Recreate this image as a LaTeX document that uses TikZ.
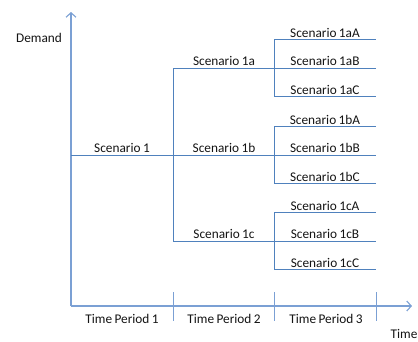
\documentclass[tikz,border=0pt]{standalone}
\usepackage{fontspec}
\setmainfont{Carlito}
\usetikzlibrary{arrows.meta}
\definecolor{treeblue}{HTML}{4F81BD}
\definecolor{axisblue}{HTML}{7BA0D4}
\definecolor{labelgray}{HTML}{141414}
\newcommand{\labelfont}{\fontsize{13.3}{15}\selectfont\spaceskip=0.18em\relax}
\tikzset{
  branch/.style={draw=treeblue, line width=0.9pt},
  axisline/.style={draw=axisblue, line width=1.3pt, -{Straight Barb[length=4.5pt,width=10pt,line width=1.1pt]}},
  tickline/.style={draw=axisblue, line width=1pt},
  lbl/.style={text=labelgray, inner sep=1pt, font=\labelfont},
}
\begin{document}
\begin{tikzpicture}[x=1pt,y=-1pt]
\useasboundingbox (0,0) rectangle (418,341);

% axes
\coordinate (O) at (71,306);
\coordinate (ytop) at (71,12);
\coordinate (xend) at (412,306);
\draw[axisline] (O) -- (ytop);
\draw[axisline] (O) -- (xend);
\node[lbl] (demand) at (39,38) {Demand};
\node[lbl] (time) at (404,334) {Time};

% period ticks
\foreach \n/\x in {t1/173,t2/274,t3/376}{
  \coordinate (\n a) at (\x,292);
  \coordinate (\n b) at (\x,321);
  \draw[tickline] (\n a) -- (\n b);
}
\node[lbl] (p1) at (122,319) {Time Period 1};
\node[lbl] (p2) at (224,319) {Time Period 2};
\node[lbl] (p3) at (326,319) {Time Period 3};

% first stage
\coordinate (s1) at (71,155);
\coordinate (j1) at (173,155);
\draw[branch] (s1) -- (j1);
\node[lbl, anchor=south] (L1) at (122,154) {Scenario 1};

% second stage
\coordinate (j1top) at (173,68);
\coordinate (j1bot) at (173,241);
\draw[branch] (j1top) -- (j1bot);
\foreach \n/\y in {a/68,b/155,c/241}{
  \coordinate (m\n) at (173,\y);
  \coordinate (e\n) at (274,\y);
  \draw[branch] (m\n) -- (e\n);
  \node[lbl, anchor=south] (L1\n) at (224,\y-1) {Scenario 1\n};
}

% third stage
\foreach \n/\y in {a/68,b/155,c/241}{
  \coordinate (k\n top) at (274,\y-28.5);
  \coordinate (k\n bot) at (274,\y+28.5);
  \draw[branch] (k\n top) -- (k\n bot);
  \foreach \m/\d in {A/-28.5,B/0,C/28.5}{
    \coordinate (f\n\m) at (274,\y+\d);
    \coordinate (g\n\m) at (376,\y+\d);
    \draw[branch] (f\n\m) -- (g\n\m);
    \node[lbl, anchor=south] (L1\n\m) at (325,\y+\d-1) {Scenario 1\n\m};
  }
}
\end{tikzpicture}
\end{document}
